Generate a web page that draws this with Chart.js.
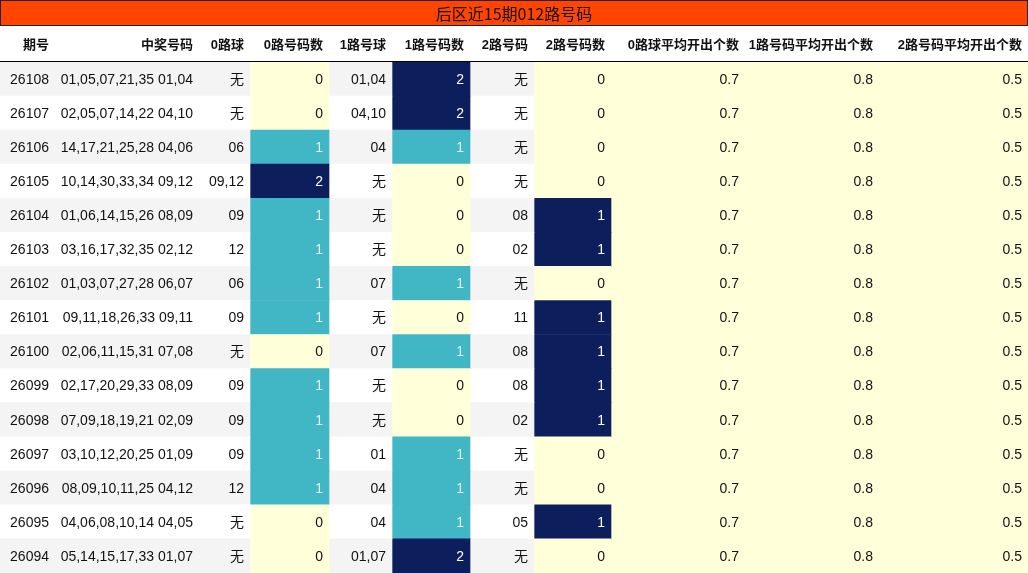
<!DOCTYPE html>
<html>
<head>
<meta charset="utf-8">
<script src="https://cdn.jsdelivr.net/npm/chart.js@4/dist/chart.umd.min.js"></script>
<style>
  body { margin: 0; background: #fff; }
  #wrap { width: 1028px; height: 573px; }
</style>
</head>
<body>
<div id="wrap"><canvas id="tbl"></canvas></div>
<script>
// table data
const title = '后区近15期012路号码';
const headers = ['期号', '中奖号码', '0路球', '0路号码数', '1路号球', '1路号码数', '2路号码', '2路号码数', '0路球平均开出个数', '1路号码平均开出个数', '2路号码平均开出个数'];
const periods = ['26108', '26107', '26106', '26105', '26104', '26103', '26102', '26101', '26100', '26099', '26098', '26097', '26096', '26095', '26094'];
const numbers = ['01,05,07,21,35 01,04', '02,05,07,14,22 04,10', '14,17,21,25,28 04,06', '10,14,30,33,34 09,12', '01,06,14,15,26 08,09',
  '03,16,17,32,35 02,12', '01,03,07,27,28 06,07', '09,11,18,26,33 09,11', '02,06,11,15,31 07,08', '02,17,20,29,33 08,09',
  '07,09,18,19,21 02,09', '03,10,12,20,25 01,09', '08,09,10,11,25 04,12', '04,06,08,10,14 04,05', '05,14,15,17,33 01,07'];
const route0 = ['无', '无', '06', '09,12', '09', '12', '06', '09', '无', '09', '09', '09', '12', '无', '无'];
const count0 = [0, 0, 1, 2, 1, 1, 1, 1, 0, 1, 1, 1, 1, 0, 0];
const route1 = ['01,04', '04,10', '04', '无', '无', '无', '07', '无', '07', '无', '无', '01', '04', '04', '01,07'];
const count1 = [2, 2, 1, 0, 0, 0, 1, 0, 1, 0, 0, 1, 1, 1, 2];
const route2 = ['无', '无', '无', '无', '08', '02', '无', '11', '08', '08', '02', '无', '无', '05', '无'];
const count2 = [0, 0, 0, 0, 1, 1, 0, 1, 1, 1, 1, 0, 0, 1, 0];
const avg0 = Array(15).fill('0.7');
const avg1 = Array(15).fill('0.8');
const avg2 = Array(15).fill('0.5');

// column edges in canvas pixels
const edges = [0, 55, 199, 250, 329, 392, 470, 534, 611, 745, 879, 1028];
const columns = [periods, numbers, route0, count0, route1, count1, route2, count2, avg0, avg1, avg2];
const countCols = [3, 5, 7];

// shade relative to the column's maximum
function level(col, row) {
  const v = columns[col][row];
  const mx = Math.max(...columns[col]);
  if (v === 0) return 0;
  return v === mx ? 2 : 1;
}
function cellColor(col, row) {
  if (countCols.includes(col)) {
    const l = level(col, row);
    return l === 2 ? '#0c1f5c' : l === 1 ? '#41b6c4' : '#ffffd9';
  }
  if (col >= 8) return '#ffffd9';
  return row % 2 === 0 ? '#f4f4f4' : '#ffffff';
}
function textColor(col, row) {
  if (countCols.includes(col)) {
    const l = level(col, row);
    if (l === 2) return '#ffffff';
    if (l === 1) return '#e6f4f7';
  }
  return '#111111';
}

const datasets = columns.map((vals, c) => ({
  data: periods.map(() => [edges[c], edges[c + 1]]),
  backgroundColor: periods.map((p, r) => cellColor(c, r)),
  borderWidth: 0,
  grouped: false,
  barPercentage: 1,
  categoryPercentage: 1
}));

const textPlugin = {
  id: 'cellText',
  afterDatasetsDraw(chart) {
    const ctx = chart.ctx;
    const xs = chart.scales.x;
    const ys = chart.scales.y;
    ctx.save();
    // title bar
    ctx.fillStyle = '#ff4500';
    ctx.fillRect(0, 0, 1028, 26);
    ctx.strokeStyle = '#222';
    ctx.lineWidth = 1;
    ctx.strokeRect(0.5, 0.5, 1027, 25);
    ctx.fillStyle = '#111';
    ctx.font = '16px "Noto Sans CJK SC", "Liberation Sans", sans-serif';
    ctx.textAlign = 'center';
    ctx.textBaseline = 'middle';
    ctx.fillText(title, 514, 14);
    // header
    ctx.font = 'bold 13px "Liberation Sans", "Noto Sans CJK SC", sans-serif';
    ctx.textAlign = 'right';
    headers.forEach((h, c) => {
      ctx.fillText(h, xs.getPixelForValue(edges[c + 1]) - 6, 45);
    });
    ctx.beginPath();
    ctx.moveTo(0, 61.5);
    ctx.lineTo(1028, 61.5);
    ctx.strokeStyle = '#000';
    ctx.stroke();
    // cells
    ctx.font = '14px "Liberation Sans", "Noto Sans CJK SC", sans-serif';
    columns.forEach((vals, c) => {
      vals.forEach((v, r) => {
        ctx.fillStyle = textColor(c, r);
        ctx.fillText(String(v), xs.getPixelForValue(edges[c + 1]) - 6, ys.getPixelForValue(r) + 1);
      });
    });
    ctx.restore();
  }
};

new Chart(document.getElementById('tbl'), {
  type: 'bar',
  data: { labels: periods, datasets: datasets },
  options: {
    indexAxis: 'y',
    responsive: true,
    maintainAspectRatio: false,
    animation: false,
    layout: { padding: { top: 62, left: 0, right: 0, bottom: 0 } },
    scales: {
      x: { type: 'linear', min: 0, max: 1028, display: false },
      y: { display: false, offset: true }
    },
    plugins: { legend: { display: false }, tooltip: { enabled: false } }
  },
  plugins: [textPlugin]
});
</script>
</body>
</html>
